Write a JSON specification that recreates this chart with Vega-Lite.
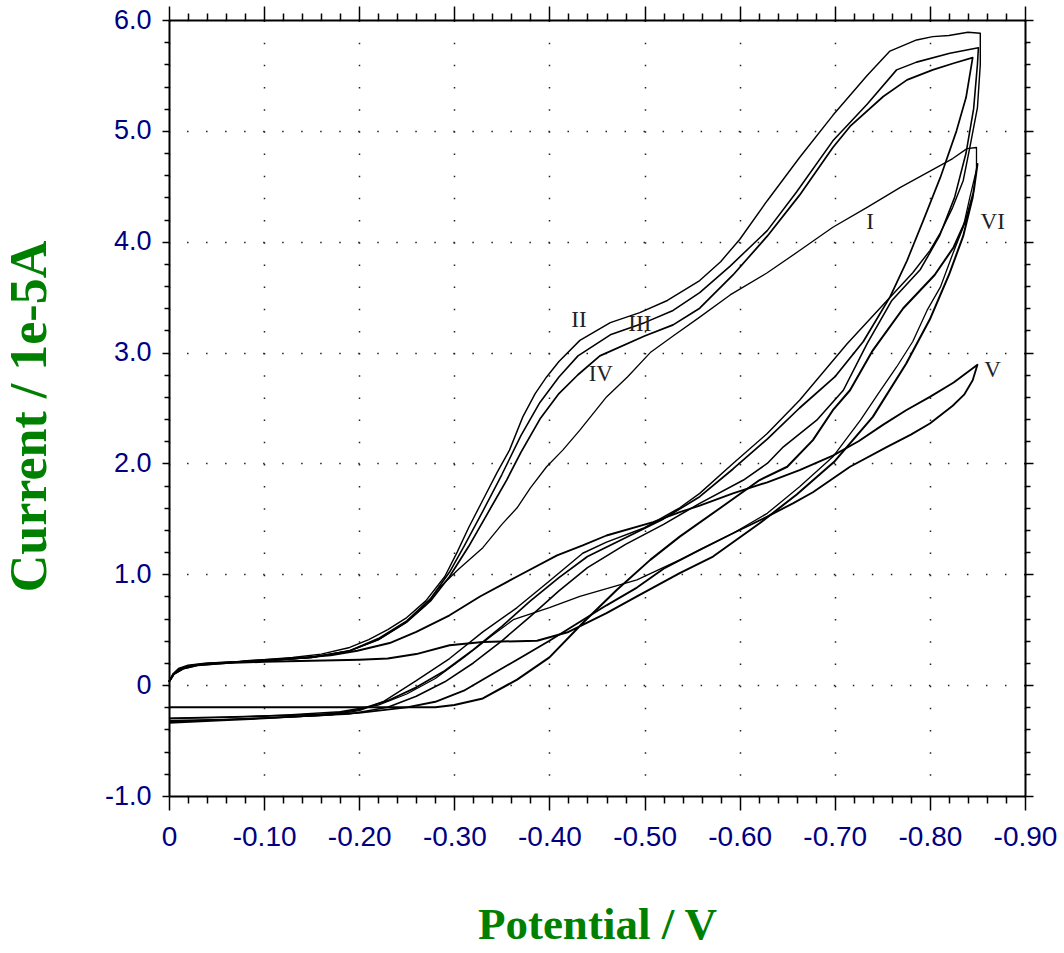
{
"$schema":"https://vega.github.io/schema/vega-lite/v6.json",
"width":856,"height":776,
"autosize":{"type":"none"},
"padding":{"left":169,"top":20,"right":39,"bottom":157},
"background":"white",
"config":{"view":{"stroke":null}},
"datasets":{
"cv":[
{"curve":"II","seq":0,"potential":0,"current":0.03},{"curve":"II","seq":1,"potential":-0.004,"current":0.1},{"curve":"II","seq":2,"potential":-0.01,"current":0.15},{"curve":"II","seq":3,"potential":-0.02,"current":0.18},{"curve":"II","seq":4,"potential":-0.04,"current":0.2},{"curve":"II","seq":5,"potential":-0.07,"current":0.21},{"curve":"II","seq":6,"potential":-0.1,"current":0.23},{"curve":"II","seq":7,"potential":-0.13,"current":0.25},{"curve":"II","seq":8,"potential":-0.16,"current":0.28},{"curve":"II","seq":9,"potential":-0.19,"current":0.34},{"curve":"II","seq":10,"potential":-0.21,"current":0.41},{"curve":"II","seq":11,"potential":-0.23,"current":0.5},{"curve":"II","seq":12,"potential":-0.25,"current":0.61},{"curve":"II","seq":13,"potential":-0.27,"current":0.76},{"curve":"II","seq":14,"potential":-0.29,"current":0.98},{"curve":"II","seq":15,"potential":-0.303,"current":1.2},{"curve":"II","seq":16,"potential":-0.315,"current":1.42},{"curve":"II","seq":17,"potential":-0.33,"current":1.67},{"curve":"II","seq":18,"potential":-0.345,"current":1.92},{"curve":"II","seq":19,"potential":-0.358,"current":2.12},{"curve":"II","seq":20,"potential":-0.372,"current":2.42},{"curve":"II","seq":21,"potential":-0.385,"current":2.63},{"curve":"II","seq":22,"potential":-0.397,"current":2.78},{"curve":"II","seq":23,"potential":-0.41,"current":2.92},{"curve":"II","seq":24,"potential":-0.432,"current":3.11},{"curve":"II","seq":25,"potential":-0.464,"current":3.27},{"curve":"II","seq":26,"potential":-0.495,"current":3.36},{"curve":"II","seq":27,"potential":-0.524,"current":3.47},{"curve":"II","seq":28,"potential":-0.558,"current":3.65},{"curve":"II","seq":29,"potential":-0.58,"current":3.82},{"curve":"II","seq":30,"potential":-0.6,"current":4.02},{"curve":"II","seq":31,"potential":-0.629,"current":4.37},{"curve":"II","seq":32,"potential":-0.663,"current":4.76},{"curve":"II","seq":33,"potential":-0.698,"current":5.14},{"curve":"II","seq":34,"potential":-0.734,"current":5.5},{"curve":"II","seq":35,"potential":-0.758,"current":5.72},{"curve":"II","seq":36,"potential":-0.786,"current":5.82},{"curve":"II","seq":37,"potential":-0.803,"current":5.85},{"curve":"II","seq":38,"potential":-0.82,"current":5.86},{"curve":"II","seq":39,"potential":-0.84,"current":5.89},{"curve":"II","seq":40,"potential":-0.853,"current":5.88},
{"curve":"II","seq":41,"potential":-0.853,"current":5.6},{"curve":"II","seq":42,"potential":-0.85,"current":5.21},{"curve":"II","seq":43,"potential":-0.842,"current":4.85},{"curve":"II","seq":44,"potential":-0.835,"current":4.55},{"curve":"II","seq":45,"potential":-0.824,"current":4.31},{"curve":"II","seq":46,"potential":-0.811,"current":4.08},{"curve":"II","seq":47,"potential":-0.8,"current":3.92},{"curve":"II","seq":48,"potential":-0.782,"current":3.72},{"curve":"II","seq":49,"potential":-0.755,"current":3.47},{"curve":"II","seq":50,"potential":-0.713,"current":3.08},{"curve":"II","seq":51,"potential":-0.663,"current":2.57},{"curve":"II","seq":52,"potential":-0.629,"current":2.27},{"curve":"II","seq":53,"potential":-0.593,"current":2.0},{"curve":"II","seq":54,"potential":-0.558,"current":1.73},{"curve":"II","seq":55,"potential":-0.537,"current":1.6},{"curve":"II","seq":56,"potential":-0.5,"current":1.42},{"curve":"II","seq":57,"potential":-0.46,"current":1.29},{"curve":"II","seq":58,"potential":-0.435,"current":1.19},{"curve":"II","seq":59,"potential":-0.4,"current":0.94},{"curve":"II","seq":60,"potential":-0.366,"current":0.7},{"curve":"II","seq":61,"potential":-0.33,"current":0.48},{"curve":"II","seq":62,"potential":-0.295,"current":0.24},{"curve":"II","seq":63,"potential":-0.26,"current":0.04},{"curve":"II","seq":64,"potential":-0.225,"current":-0.15},{"curve":"II","seq":65,"potential":-0.2,"current":-0.23},{"curve":"II","seq":66,"potential":-0.17,"current":-0.27},{"curve":"II","seq":67,"potential":-0.12,"current":-0.29},{"curve":"II","seq":68,"potential":-0.06,"current":-0.31},{"curve":"II","seq":69,"potential":0,"current":-0.33},
{"curve":"III","seq":0,"potential":0,"current":0.03},{"curve":"III","seq":1,"potential":-0.005,"current":0.1},{"curve":"III","seq":2,"potential":-0.012,"current":0.15},{"curve":"III","seq":3,"potential":-0.025,"current":0.18},{"curve":"III","seq":4,"potential":-0.05,"current":0.2},{"curve":"III","seq":5,"potential":-0.1,"current":0.22},{"curve":"III","seq":6,"potential":-0.15,"current":0.25},{"curve":"III","seq":7,"potential":-0.19,"current":0.31},{"curve":"III","seq":8,"potential":-0.22,"current":0.42},{"curve":"III","seq":9,"potential":-0.25,"current":0.58},{"curve":"III","seq":10,"potential":-0.275,"current":0.78},{"curve":"III","seq":11,"potential":-0.295,"current":1.02},{"curve":"III","seq":12,"potential":-0.31,"current":1.25},{"curve":"III","seq":13,"potential":-0.33,"current":1.57},{"curve":"III","seq":14,"potential":-0.35,"current":1.9},{"curve":"III","seq":15,"potential":-0.37,"current":2.25},{"curve":"III","seq":16,"potential":-0.39,"current":2.55},{"curve":"III","seq":17,"potential":-0.41,"current":2.78},{"curve":"III","seq":18,"potential":-0.43,"current":2.97},{"curve":"III","seq":19,"potential":-0.464,"current":3.16},{"curve":"III","seq":20,"potential":-0.5,"current":3.27},{"curve":"III","seq":21,"potential":-0.53,"current":3.38},{"curve":"III","seq":22,"potential":-0.558,"current":3.54},{"curve":"III","seq":23,"potential":-0.59,"current":3.78},{"curve":"III","seq":24,"potential":-0.629,"current":4.1},{"curve":"III","seq":25,"potential":-0.66,"current":4.45},{"curve":"III","seq":26,"potential":-0.698,"current":4.91},{"curve":"III","seq":27,"potential":-0.734,"current":5.24},{"curve":"III","seq":28,"potential":-0.765,"current":5.55},{"curve":"III","seq":29,"potential":-0.786,"current":5.62},{"curve":"III","seq":30,"potential":-0.821,"current":5.7},{"curve":"III","seq":31,"potential":-0.851,"current":5.75},
{"curve":"III","seq":32,"potential":-0.85,"current":5.6},{"curve":"III","seq":33,"potential":-0.846,"current":5.2},{"curve":"III","seq":34,"potential":-0.838,"current":4.8},{"curve":"III","seq":35,"potential":-0.826,"current":4.4},{"curve":"III","seq":36,"potential":-0.81,"current":4.05},{"curve":"III","seq":37,"potential":-0.79,"current":3.75},{"curve":"III","seq":38,"potential":-0.76,"current":3.47},{"curve":"III","seq":39,"potential":-0.734,"current":3.08},{"curve":"III","seq":40,"potential":-0.709,"current":2.66},{"curve":"III","seq":41,"potential":-0.681,"current":2.39},{"curve":"III","seq":42,"potential":-0.646,"current":2.15},{"curve":"III","seq":43,"potential":-0.629,"current":2.0},{"curve":"III","seq":44,"potential":-0.604,"current":1.85},{"curve":"III","seq":45,"potential":-0.558,"current":1.64},{"curve":"III","seq":46,"potential":-0.52,"current":1.45},{"curve":"III","seq":47,"potential":-0.48,"current":1.27},{"curve":"III","seq":48,"potential":-0.44,"current":1.06},{"curve":"III","seq":49,"potential":-0.41,"current":0.85},{"curve":"III","seq":50,"potential":-0.38,"current":0.62},{"curve":"III","seq":51,"potential":-0.35,"current":0.4},{"curve":"III","seq":52,"potential":-0.32,"current":0.2},{"curve":"III","seq":53,"potential":-0.29,"current":0.03},{"curve":"III","seq":54,"potential":-0.26,"current":-0.1},{"curve":"III","seq":55,"potential":-0.23,"current":-0.2},{"curve":"III","seq":56,"potential":-0.19,"current":-0.26},{"curve":"III","seq":57,"potential":-0.12,"current":-0.29},{"curve":"III","seq":58,"potential":-0.06,"current":-0.31},{"curve":"III","seq":59,"potential":0,"current":-0.32},
{"curve":"IV","seq":0,"potential":0,"current":0.03},{"curve":"IV","seq":1,"potential":-0.005,"current":0.1},{"curve":"IV","seq":2,"potential":-0.012,"current":0.15},{"curve":"IV","seq":3,"potential":-0.025,"current":0.18},{"curve":"IV","seq":4,"potential":-0.05,"current":0.2},{"curve":"IV","seq":5,"potential":-0.1,"current":0.22},{"curve":"IV","seq":6,"potential":-0.15,"current":0.25},{"curve":"IV","seq":7,"potential":-0.19,"current":0.31},{"curve":"IV","seq":8,"potential":-0.22,"current":0.41},{"curve":"IV","seq":9,"potential":-0.25,"current":0.57},{"curve":"IV","seq":10,"potential":-0.275,"current":0.76},{"curve":"IV","seq":11,"potential":-0.295,"current":0.98},{"curve":"IV","seq":12,"potential":-0.315,"current":1.25},{"curve":"IV","seq":13,"potential":-0.335,"current":1.55},{"curve":"IV","seq":14,"potential":-0.355,"current":1.85},{"curve":"IV","seq":15,"potential":-0.37,"current":2.1},{"curve":"IV","seq":16,"potential":-0.39,"current":2.4},{"curve":"IV","seq":17,"potential":-0.41,"current":2.63},{"curve":"IV","seq":18,"potential":-0.43,"current":2.8},{"curve":"IV","seq":19,"potential":-0.453,"current":2.97},{"curve":"IV","seq":20,"potential":-0.5,"current":3.15},{"curve":"IV","seq":21,"potential":-0.53,"current":3.25},{"curve":"IV","seq":22,"potential":-0.558,"current":3.4},{"curve":"IV","seq":23,"potential":-0.593,"current":3.7},{"curve":"IV","seq":24,"potential":-0.629,"current":4.05},{"curve":"IV","seq":25,"potential":-0.663,"current":4.42},{"curve":"IV","seq":26,"potential":-0.698,"current":4.85},{"curve":"IV","seq":27,"potential":-0.716,"current":5.04},{"curve":"IV","seq":28,"potential":-0.751,"current":5.31},{"curve":"IV","seq":29,"potential":-0.776,"current":5.46},{"curve":"IV","seq":30,"potential":-0.803,"current":5.55},{"curve":"IV","seq":31,"potential":-0.825,"current":5.61},{"curve":"IV","seq":32,"potential":-0.845,"current":5.66},
{"curve":"IV","seq":33,"potential":-0.838,"current":5.3},{"curve":"IV","seq":34,"potential":-0.828,"current":5.0},{"curve":"IV","seq":35,"potential":-0.811,"current":4.58},{"curve":"IV","seq":36,"potential":-0.793,"current":4.19},{"curve":"IV","seq":37,"potential":-0.776,"current":3.83},{"curve":"IV","seq":38,"potential":-0.758,"current":3.5},{"curve":"IV","seq":39,"potential":-0.73,"current":3.1},{"curve":"IV","seq":40,"potential":-0.7,"current":2.78},{"curve":"IV","seq":41,"potential":-0.663,"current":2.5},{"curve":"IV","seq":42,"potential":-0.629,"current":2.22},{"curve":"IV","seq":43,"potential":-0.593,"current":1.95},{"curve":"IV","seq":44,"potential":-0.558,"current":1.7},{"curve":"IV","seq":45,"potential":-0.52,"current":1.5},{"curve":"IV","seq":46,"potential":-0.48,"current":1.33},{"curve":"IV","seq":47,"potential":-0.44,"current":1.16},{"curve":"IV","seq":48,"potential":-0.41,"current":0.97},{"curve":"IV","seq":49,"potential":-0.38,"current":0.76},{"curve":"IV","seq":50,"potential":-0.35,"current":0.53},{"curve":"IV","seq":51,"potential":-0.32,"current":0.32},{"curve":"IV","seq":52,"potential":-0.29,"current":0.13},{"curve":"IV","seq":53,"potential":-0.26,"current":-0.02},{"curve":"IV","seq":54,"potential":-0.23,"current":-0.14},{"curve":"IV","seq":55,"potential":-0.2,"current":-0.22},{"curve":"IV","seq":56,"potential":-0.16,"current":-0.27},{"curve":"IV","seq":57,"potential":-0.1,"current":-0.3},{"curve":"IV","seq":58,"potential":-0.05,"current":-0.32},{"curve":"IV","seq":59,"potential":0,"current":-0.34},
{"curve":"I","seq":0,"potential":0,"current":0.03},{"curve":"I","seq":1,"potential":-0.005,"current":0.1},{"curve":"I","seq":2,"potential":-0.012,"current":0.15},{"curve":"I","seq":3,"potential":-0.025,"current":0.18},{"curve":"I","seq":4,"potential":-0.05,"current":0.2},{"curve":"I","seq":5,"potential":-0.1,"current":0.22},{"curve":"I","seq":6,"potential":-0.15,"current":0.25},{"curve":"I","seq":7,"potential":-0.19,"current":0.31},{"curve":"I","seq":8,"potential":-0.22,"current":0.41},{"curve":"I","seq":9,"potential":-0.25,"current":0.57},{"curve":"I","seq":10,"potential":-0.27,"current":0.72},{"curve":"I","seq":11,"potential":-0.282,"current":0.86},{"curve":"I","seq":12,"potential":-0.305,"current":1.05},{"curve":"I","seq":13,"potential":-0.33,"current":1.24},{"curve":"I","seq":14,"potential":-0.35,"current":1.45},{"curve":"I","seq":15,"potential":-0.366,"current":1.6},{"curve":"I","seq":16,"potential":-0.38,"current":1.78},{"curve":"I","seq":17,"potential":-0.397,"current":1.97},{"curve":"I","seq":18,"potential":-0.414,"current":2.12},{"curve":"I","seq":19,"potential":-0.432,"current":2.3},{"curve":"I","seq":20,"potential":-0.46,"current":2.6},{"curve":"I","seq":21,"potential":-0.482,"current":2.78},{"curve":"I","seq":22,"potential":-0.506,"current":3.0},{"curve":"I","seq":23,"potential":-0.53,"current":3.15},{"curve":"I","seq":24,"potential":-0.558,"current":3.32},{"curve":"I","seq":25,"potential":-0.59,"current":3.52},{"curve":"I","seq":26,"potential":-0.629,"current":3.72},{"curve":"I","seq":27,"potential":-0.663,"current":3.92},{"curve":"I","seq":28,"potential":-0.698,"current":4.13},{"curve":"I","seq":29,"potential":-0.734,"current":4.31},{"curve":"I","seq":30,"potential":-0.769,"current":4.49},{"curve":"I","seq":31,"potential":-0.803,"current":4.65},{"curve":"I","seq":32,"potential":-0.824,"current":4.75},{"curve":"I","seq":33,"potential":-0.839,"current":4.84},{"curve":"I","seq":34,"potential":-0.849,"current":4.85},
{"curve":"I","seq":35,"potential":-0.849,"current":4.65},{"curve":"I","seq":36,"potential":-0.842,"current":4.4},{"curve":"I","seq":37,"potential":-0.835,"current":4.13},{"curve":"I","seq":38,"potential":-0.824,"current":3.89},{"curve":"I","seq":39,"potential":-0.811,"current":3.59},{"curve":"I","seq":40,"potential":-0.797,"current":3.38},{"curve":"I","seq":41,"potential":-0.782,"current":3.1},{"curve":"I","seq":42,"potential":-0.765,"current":2.87},{"curve":"I","seq":43,"potential":-0.745,"current":2.62},{"curve":"I","seq":44,"potential":-0.727,"current":2.39},{"curve":"I","seq":45,"potential":-0.698,"current":2.06},{"curve":"I","seq":46,"potential":-0.663,"current":1.79},{"curve":"I","seq":47,"potential":-0.629,"current":1.55},{"curve":"I","seq":48,"potential":-0.593,"current":1.37},{"curve":"I","seq":49,"potential":-0.572,"current":1.28},{"curve":"I","seq":50,"potential":-0.537,"current":1.13},{"curve":"I","seq":51,"potential":-0.492,"current":0.95},{"curve":"I","seq":52,"potential":-0.432,"current":0.8},{"curve":"I","seq":53,"potential":-0.4,"current":0.7},{"curve":"I","seq":54,"potential":-0.362,"current":0.59},{"curve":"I","seq":55,"potential":-0.34,"current":0.45},{"curve":"I","seq":56,"potential":-0.31,"current":0.25},{"curve":"I","seq":57,"potential":-0.28,"current":0.06},{"curve":"I","seq":58,"potential":-0.25,"current":-0.08},{"curve":"I","seq":59,"potential":-0.22,"current":-0.18},{"curve":"I","seq":60,"potential":-0.18,"current":-0.24},{"curve":"I","seq":61,"potential":-0.12,"current":-0.27},{"curve":"I","seq":62,"potential":-0.06,"current":-0.29},{"curve":"I","seq":63,"potential":0,"current":-0.3},
{"curve":"V","seq":0,"potential":0,"current":0.03},{"curve":"V","seq":1,"potential":-0.005,"current":0.1},{"curve":"V","seq":2,"potential":-0.015,"current":0.15},{"curve":"V","seq":3,"potential":-0.03,"current":0.18},{"curve":"V","seq":4,"potential":-0.06,"current":0.2},{"curve":"V","seq":5,"potential":-0.085,"current":0.22},{"curve":"V","seq":6,"potential":-0.13,"current":0.24},{"curve":"V","seq":7,"potential":-0.17,"current":0.27},{"curve":"V","seq":8,"potential":-0.198,"current":0.31},{"curve":"V","seq":9,"potential":-0.232,"current":0.38},{"curve":"V","seq":10,"potential":-0.26,"current":0.48},{"curve":"V","seq":11,"potential":-0.295,"current":0.63},{"curve":"V","seq":12,"potential":-0.327,"current":0.8},{"curve":"V","seq":13,"potential":-0.366,"current":0.98},{"curve":"V","seq":14,"potential":-0.408,"current":1.17},{"curve":"V","seq":15,"potential":-0.435,"current":1.26},{"curve":"V","seq":16,"potential":-0.46,"current":1.35},{"curve":"V","seq":17,"potential":-0.509,"current":1.47},{"curve":"V","seq":18,"potential":-0.537,"current":1.56},{"curve":"V","seq":19,"potential":-0.558,"current":1.62},{"curve":"V","seq":20,"potential":-0.593,"current":1.73},{"curve":"V","seq":21,"potential":-0.629,"current":1.83},{"curve":"V","seq":22,"potential":-0.663,"current":1.94},{"curve":"V","seq":23,"potential":-0.698,"current":2.07},{"curve":"V","seq":24,"potential":-0.725,"current":2.2},{"curve":"V","seq":25,"potential":-0.751,"current":2.35},{"curve":"V","seq":26,"potential":-0.775,"current":2.48},{"curve":"V","seq":27,"potential":-0.8,"current":2.6},{"curve":"V","seq":28,"potential":-0.825,"current":2.73},{"curve":"V","seq":29,"potential":-0.85,"current":2.89},
{"curve":"V","seq":30,"potential":-0.845,"current":2.75},{"curve":"V","seq":31,"potential":-0.836,"current":2.62},{"curve":"V","seq":32,"potential":-0.824,"current":2.52},{"curve":"V","seq":33,"potential":-0.8,"current":2.36},{"curve":"V","seq":34,"potential":-0.78,"current":2.26},{"curve":"V","seq":35,"potential":-0.755,"current":2.15},{"curve":"V","seq":36,"potential":-0.716,"current":1.97},{"curve":"V","seq":37,"potential":-0.677,"current":1.74},{"curve":"V","seq":38,"potential":-0.656,"current":1.64},{"curve":"V","seq":39,"potential":-0.629,"current":1.52},{"curve":"V","seq":40,"potential":-0.593,"current":1.37},{"curve":"V","seq":41,"potential":-0.558,"current":1.22},{"curve":"V","seq":42,"potential":-0.52,"current":1.05},{"curve":"V","seq":43,"potential":-0.492,"current":0.88},{"curve":"V","seq":44,"potential":-0.46,"current":0.72},{"curve":"V","seq":45,"potential":-0.43,"current":0.56},{"curve":"V","seq":46,"potential":-0.4,"current":0.4},{"curve":"V","seq":47,"potential":-0.37,"current":0.25},{"curve":"V","seq":48,"potential":-0.34,"current":0.1},{"curve":"V","seq":49,"potential":-0.31,"current":-0.05},{"curve":"V","seq":50,"potential":-0.28,"current":-0.15},{"curve":"V","seq":51,"potential":-0.25,"current":-0.2},{"curve":"V","seq":52,"potential":-0.2,"current":-0.25},{"curve":"V","seq":53,"potential":-0.1,"current":-0.28},{"curve":"V","seq":54,"potential":0,"current":-0.3},
{"curve":"VI","seq":0,"potential":0,"current":0.03},{"curve":"VI","seq":1,"potential":-0.005,"current":0.1},{"curve":"VI","seq":2,"potential":-0.015,"current":0.15},{"curve":"VI","seq":3,"potential":-0.03,"current":0.18},{"curve":"VI","seq":4,"potential":-0.06,"current":0.2},{"curve":"VI","seq":5,"potential":-0.1,"current":0.21},{"curve":"VI","seq":6,"potential":-0.15,"current":0.22},{"curve":"VI","seq":7,"potential":-0.2,"current":0.23},{"curve":"VI","seq":8,"potential":-0.23,"current":0.24},{"curve":"VI","seq":9,"potential":-0.26,"current":0.28},{"curve":"VI","seq":10,"potential":-0.295,"current":0.36},{"curve":"VI","seq":11,"potential":-0.33,"current":0.39},{"curve":"VI","seq":12,"potential":-0.387,"current":0.4},{"curve":"VI","seq":13,"potential":-0.42,"current":0.48},{"curve":"VI","seq":14,"potential":-0.46,"current":0.65},{"curve":"VI","seq":15,"potential":-0.492,"current":0.8},{"curve":"VI","seq":16,"potential":-0.537,"current":1.01},{"curve":"VI","seq":17,"potential":-0.572,"current":1.16},{"curve":"VI","seq":18,"potential":-0.621,"current":1.46},{"curve":"VI","seq":19,"potential":-0.66,"current":1.72},{"curve":"VI","seq":20,"potential":-0.7,"current":2.02},{"curve":"VI","seq":21,"potential":-0.74,"current":2.42},{"curve":"VI","seq":22,"potential":-0.775,"current":2.9},{"curve":"VI","seq":23,"potential":-0.8,"current":3.3},{"curve":"VI","seq":24,"potential":-0.82,"current":3.7},{"curve":"VI","seq":25,"potential":-0.835,"current":4.05},{"curve":"VI","seq":26,"potential":-0.845,"current":4.4},{"curve":"VI","seq":27,"potential":-0.85,"current":4.7},
{"curve":"VI","seq":28,"potential":-0.846,"current":4.45},{"curve":"VI","seq":29,"potential":-0.838,"current":4.2},{"curve":"VI","seq":30,"potential":-0.825,"current":3.95},{"curve":"VI","seq":31,"potential":-0.805,"current":3.7},{"curve":"VI","seq":32,"potential":-0.772,"current":3.4},{"curve":"VI","seq":33,"potential":-0.74,"current":3.02},{"curve":"VI","seq":34,"potential":-0.716,"current":2.66},{"curve":"VI","seq":35,"potential":-0.698,"current":2.48},{"curve":"VI","seq":36,"potential":-0.677,"current":2.21},{"curve":"VI","seq":37,"potential":-0.65,"current":1.97},{"curve":"VI","seq":38,"potential":-0.621,"current":1.85},{"curve":"VI","seq":39,"potential":-0.58,"current":1.6},{"curve":"VI","seq":40,"potential":-0.537,"current":1.34},{"curve":"VI","seq":41,"potential":-0.506,"current":1.13},{"curve":"VI","seq":42,"potential":-0.471,"current":0.86},{"curve":"VI","seq":43,"potential":-0.435,"current":0.56},{"curve":"VI","seq":44,"potential":-0.4,"current":0.25},{"curve":"VI","seq":45,"potential":-0.366,"current":0.05},{"curve":"VI","seq":46,"potential":-0.33,"current":-0.12},{"curve":"VI","seq":47,"potential":-0.3,"current":-0.18},{"curve":"VI","seq":48,"potential":-0.28,"current":-0.2},{"curve":"VI","seq":49,"potential":-0.2,"current":-0.2},{"curve":"VI","seq":50,"potential":-0.1,"current":-0.2},{"curve":"VI","seq":51,"potential":0,"current":-0.2}
],
"labels":[
{"label":"I","potential":-0.737,"current":4.18},
{"label":"II","potential":-0.431,"current":3.29},
{"label":"III","potential":-0.495,"current":3.26},
{"label":"IV","potential":-0.454,"current":2.81},
{"label":"V","potential":-0.866,"current":2.84},
{"label":"VI","potential":-0.866,"current":4.18}
]
},
"layer":[
{
"data":{"name":"cv"},
"mark":{"type":"line","color":"black","strokeJoin":"round"},
"encoding":{
"x":{"field":"potential","type":"quantitative","scale":{"domain":[-0.9,0],"reverse":true,"nice":false,"zero":false},
"axis":{"orient":"bottom","values":[0,-0.02,-0.04,-0.06,-0.08,-0.1,-0.12,-0.14,-0.16,-0.18,-0.2,-0.22,-0.24,-0.26,-0.28,-0.3,-0.32,-0.34,-0.36,-0.38,-0.4,-0.42,-0.44,-0.46,-0.48,-0.5,-0.52,-0.54,-0.56,-0.58,-0.6,-0.62,-0.64,-0.66,-0.68,-0.7,-0.72,-0.74,-0.76,-0.78,-0.8,-0.82,-0.84,-0.86,-0.88,-0.9],
"title":"Potential / V","titleFont":"Liberation Serif","titleFontSize":45,"titleFontWeight":"bold","titleColor":"#008000","titleX":428,"titleY":142,"titleBaseline":"alphabetic","titleAlign":"center",
"labelFont":"Liberation Sans","labelFontSize":28,"labelColor":"#000080","labelPadding":13,"labelFlush":false,"labelOverlap":false,
"labelExpr":"abs(datum.value*10-round(datum.value*10))<0.001 ? (abs(datum.value)<0.001 ? '0' : '-' + format(abs(datum.value), '.2f')) : ''",
"tickSize":{"condition":{"test":"abs(datum.value*10-round(datum.value*10))<0.001","value":14},"value":7},
"tickColor":"black","tickWidth":1.5,"domainColor":"black","domainWidth":2,
"grid":true,"gridColor":{"condition":{"test":"abs(datum.value*10-round(datum.value*10))<0.001","value":"#222222"},"value":"rgba(0,0,0,0)"},"gridDash":[1.5,20.671],"gridWidth":1.5}},
"y":{"field":"current","type":"quantitative","scale":{"domain":[-1,6],"nice":false,"zero":false},
"axis":{"orient":"left","values":[-1,-0.8,-0.6,-0.4,-0.2,0,0.2,0.4,0.6,0.8,1,1.2,1.4,1.6,1.8,2,2.2,2.4,2.6,2.8,3,3.2,3.4,3.6,3.8,4,4.2,4.4,4.6,4.8,5,5.2,5.4,5.6,5.8,6],
"title":"Current / 1e-5A","titleFont":"Liberation Serif","titleFontSize":52,"titleFontWeight":"bold","titleColor":"#008000","titleX":-124,"titleY":396,"titleBaseline":"alphabetic","titleAlign":"center","titleAngle":270,
"labelFont":"Liberation Sans","labelFontSize":27,"labelColor":"#000080","labelPadding":11,"labelFlush":false,"labelOverlap":false,
"labelExpr":"abs(datum.value-round(datum.value))<0.001 ? (abs(datum.value)<0.001 ? '0' : (datum.value<0 ? '-' : '') + format(abs(datum.value), '.1f')) : ''",
"tickSize":{"condition":{"test":"abs(datum.value-round(datum.value))<0.001","value":7},"value":5},
"tickColor":"black","tickWidth":1.5,"domainColor":"black","domainWidth":2,
"grid":true,"gridColor":{"condition":{"test":"abs(datum.value-round(datum.value))<0.001","value":"#222222"},"value":"rgba(0,0,0,0)"},"gridDash":[1.5,17.522],"gridWidth":1.5}},
"detail":{"field":"curve","type":"nominal"},
"order":{"field":"seq","type":"quantitative"},
"strokeWidth":{"field":"curve","type":"nominal","scale":{"domain":["I","II","III","IV","V","VI"],"range":[1.3,2,1.4,1.6,1.3,1.3]},"legend":null}
}
},
{
"data":{"name":"labels"},
"mark":{"type":"text","font":"Liberation Serif","fontSize":23,"color":"#222222","align":"center","baseline":"middle"},
"encoding":{
"x":{"field":"potential","type":"quantitative","scale":{"domain":[-0.9,0],"reverse":true,"nice":false,"zero":false},
"axis":{"orient":"top","values":[0,-0.02,-0.04,-0.06,-0.08,-0.1,-0.12,-0.14,-0.16,-0.18,-0.2,-0.22,-0.24,-0.26,-0.28,-0.3,-0.32,-0.34,-0.36,-0.38,-0.4,-0.42,-0.44,-0.46,-0.48,-0.5,-0.52,-0.54,-0.56,-0.58,-0.6,-0.62,-0.64,-0.66,-0.68,-0.7,-0.72,-0.74,-0.76,-0.78,-0.8,-0.82,-0.84,-0.86,-0.88,-0.9],"labels":false,"title":null,"grid":false,
"tickSize":{"condition":{"test":"abs(datum.value*10-round(datum.value*10))<0.001","value":14},"value":7},
"tickColor":"black","tickWidth":1.5,"domainColor":"black","domainWidth":2}},
"y":{"field":"current","type":"quantitative","scale":{"domain":[-1,6],"nice":false,"zero":false},
"axis":{"orient":"right","values":[-1,-0.8,-0.6,-0.4,-0.2,0,0.2,0.4,0.6,0.8,1,1.2,1.4,1.6,1.8,2,2.2,2.4,2.6,2.8,3,3.2,3.4,3.6,3.8,4,4.2,4.4,4.6,4.8,5,5.2,5.4,5.6,5.8,6],"labels":false,"title":null,"grid":false,
"tickSize":{"condition":{"test":"abs(datum.value-round(datum.value))<0.001","value":8},"value":5},
"tickColor":"black","tickWidth":1.5,"domainColor":"black","domainWidth":2}},
"text":{"field":"label","type":"nominal"}
}
}
],
"resolve":{"axis":{"x":"independent","y":"independent"}}
}
